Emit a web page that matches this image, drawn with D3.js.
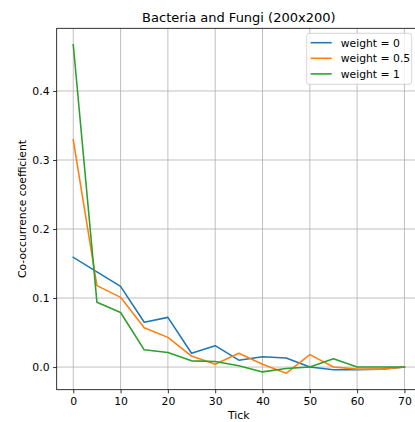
<!DOCTYPE html>
<html>
<head>
<meta charset="utf-8">
<script src="https://cdn.jsdelivr.net/npm/d3@7"></script>
<style>
  body { margin: 0; background: #fff; }
  svg { display: block; }
  text { font-family: "DejaVu Sans", sans-serif; fill: #000; }
</style>
</head>
<body>
<svg id="chart" width="415" height="422"></svg>
<script>
// Co-occurrence coefficient over time for three weightings
const ticks = [0, 5, 10, 15, 20, 25, 30, 35, 40, 45, 50, 55, 60, 65, 70];
const weight0 = [0.159, 0.138, 0.117, 0.065, 0.072, 0.020, 0.031, 0.010, 0.015, 0.013, 0.000, -0.004, -0.004, -0.003, 0.000];
const weight05 = [0.329, 0.118, 0.101, 0.057, 0.043, 0.016, 0.004, 0.020, 0.004, -0.009, 0.018, 0.000, -0.003, -0.003, 0.000];
const weight1 = [0.467, 0.094, 0.079, 0.025, 0.021, 0.009, 0.008, 0.002, -0.007, -0.002, 0.000, 0.012, 0.000, 0.000, 0.000];
const seriesNames = ["weight = 0", "weight = 0.5", "weight = 1"];
const seriesColors = ["#1f77b4", "#ff7f0e", "#2ca02c"];
const xTickValues = [0, 10, 20, 30, 40, 50, 60, 70];
const yTickValues = [0.0, 0.1, 0.2, 0.3, 0.4];

const series = [weight0, weight05, weight1].map((vals, i) => ({
  name: seriesNames[i],
  color: seriesColors[i],
  points: ticks.map((t, j) => ({ x: t, y: vals[j] }))
}));

const svg = d3.select("#chart");
const plotLeft = 56.7, plotRight = 421, plotTop = 28.3, plotBottom = 389.7;
const fontSize = 10.8;

// matplotlib-style 5% margins around the data range
const xMin = d3.min(ticks), xMax = d3.max(ticks);
const xPad = (xMax - xMin) * 0.05;
const allY = [].concat(weight0, weight05, weight1);
const yMin = d3.min(allY), yMax = d3.max(allY);
const yPad = (yMax - yMin) * 0.05;

const x = d3.scaleLinear().domain([xMin - xPad, xMax + xPad]).range([plotLeft, plotRight]);
const y = d3.scaleLinear().domain([yMin - yPad, yMax + yPad]).range([plotBottom, plotTop]);

// grid
const grid = svg.append("g");
grid.selectAll(".gx").data(xTickValues).join("line")
  .attr("x1", d => x(d)).attr("x2", d => x(d))
  .attr("y1", plotTop).attr("y2", plotBottom)
  .attr("stroke", "#b0b0b0").attr("stroke-width", 0.8);
grid.selectAll(".gy").data(yTickValues).join("line")
  .attr("x1", plotLeft).attr("x2", plotRight)
  .attr("y1", d => y(d)).attr("y2", d => y(d))
  .attr("stroke", "#b0b0b0").attr("stroke-width", 0.8);

// lines
const line = d3.line().x(d => x(d.x)).y(d => y(d.y));
svg.append("g").selectAll("path").data(series).join("path")
  .attr("d", d => line(d.points))
  .attr("fill", "none")
  .attr("stroke", d => d.color)
  .attr("stroke-width", 1.56)
  .attr("stroke-linejoin", "round")
  .attr("stroke-linecap", "square");

// axes
const xAxis = d3.axisBottom(x).tickValues(xTickValues).tickFormat(d3.format("d"))
  .tickSize(3.6).tickPadding(3.8);
const yAxis = d3.axisLeft(y).tickValues(yTickValues).tickFormat(d3.format(".1f"))
  .tickSize(3.6).tickPadding(3.6);

const gx = svg.append("g").attr("transform", `translate(0,${plotBottom})`).call(xAxis);
const gy = svg.append("g").attr("transform", `translate(${plotLeft},0)`).call(yAxis);
[gx, gy].forEach(g => {
  g.select(".domain").remove();
  g.selectAll("line").attr("stroke", "#000").attr("stroke-width", 0.8);
  g.selectAll("text").attr("font-size", fontSize).attr("font-family", "DejaVu Sans, sans-serif").attr("fill", "#000");
});

// spines
svg.append("rect")
  .attr("x", plotLeft).attr("y", plotTop)
  .attr("width", plotRight - plotLeft).attr("height", plotBottom - plotTop)
  .attr("fill", "none").attr("stroke", "#000").attr("stroke-width", 0.8);

// title and axis labels
svg.append("text")
  .attr("x", (plotLeft + plotRight) / 2).attr("y", 21.5)
  .attr("text-anchor", "middle").attr("font-size", 13)
  .text("Bacteria and Fungi (200x200)");
svg.append("text")
  .attr("x", (plotLeft + plotRight) / 2).attr("y", 419)
  .attr("text-anchor", "middle").attr("font-size", fontSize)
  .text("Tick");
svg.append("text")
  .attr("transform", `translate(25.5,${(plotTop + plotBottom) / 2}) rotate(-90)`)
  .attr("text-anchor", "middle").attr("font-size", fontSize)
  .text("Co-occurrence coefficient");

// legend
const lg = svg.append("g").attr("transform", "translate(306.7,33.3)");
lg.append("rect")
  .attr("width", 105).attr("height", 51).attr("rx", 2.5)
  .attr("fill", "#fff").attr("fill-opacity", 0.8)
  .attr("stroke", "#cccccc").attr("stroke-width", 0.8);
const items = lg.selectAll(".item").data(series).join("g")
  .attr("transform", (d, i) => `translate(0,${9.4 + i * 15.6})`);
items.append("line")
  .attr("x1", 4).attr("x2", 25)
  .attr("stroke", d => d.color).attr("stroke-width", 1.56);
items.append("text")
  .attr("x", 34).attr("y", 3.8)
  .attr("font-size", fontSize)
  .text(d => d.name);
</script>
</body>
</html>
